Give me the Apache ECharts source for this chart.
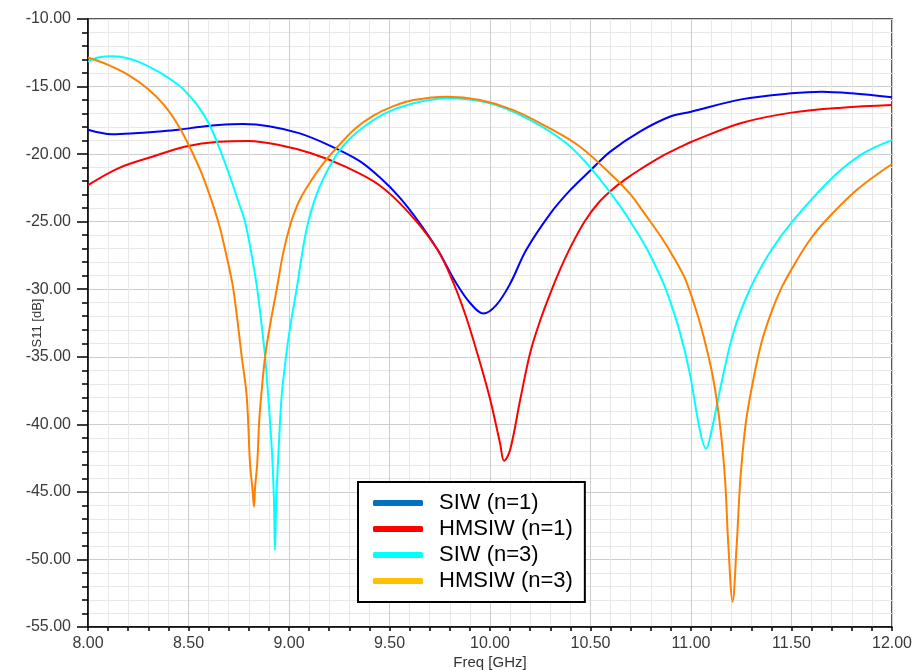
<!DOCTYPE html>
<html>
<head>
<meta charset="utf-8">
<script src="https://cdn.jsdelivr.net/npm/echarts@6/dist/echarts.min.js"></script>
<style>
html,body{margin:0;padding:0;background:#fff;}
#chart{width:914px;height:670px;}
</style>
</head>
<body>
<div id="chart"></div>
<script>
// ---- data ----
var seriesNames = ['SIW (n=1)', 'HMSIW (n=1)', 'SIW (n=3)', 'HMSIW (n=3)'];
var xTickLabels = ['8.00','8.50','9.00','9.50','10.00','10.50','11.00','11.50','12.00'];

var freqSIW1 = [8.00, 8.12, 8.23, 8.35, 8.45, 8.55, 8.65, 8.77, 8.90, 9.05, 9.20, 9.35, 9.45, 9.55, 9.65, 9.74, 9.83, 9.90, 9.967, 10.03, 10.10, 10.18, 10.30, 10.40, 10.50, 10.60, 10.75, 10.90, 11.00, 11.25, 11.50, 11.65, 11.80, 12.00];
var s11SIW1  = [-18.2, -18.53, -18.46, -18.33, -18.2, -18.0, -17.85, -17.78, -17.93, -18.45, -19.35, -20.5, -21.7, -23.2, -25.1, -27.1, -29.5, -31.0, -31.8, -31.2, -29.6, -27.1, -24.4, -22.65, -21.2, -19.8, -18.3, -17.2, -16.86, -15.95, -15.5, -15.38, -15.5, -15.8];

var freqHMSIW1 = [8.00, 8.15, 8.32, 8.48, 8.65, 8.80, 8.95, 9.11, 9.28, 9.45, 9.60, 9.74, 9.82, 9.88, 9.93, 10.00, 10.05, 10.07, 10.10, 10.15, 10.20, 10.25, 10.30, 10.35, 10.40, 10.47, 10.54, 10.61, 10.68, 10.75, 10.85, 10.95, 11.00, 11.25, 11.50, 11.75, 12.00];
var s11HMSIW1  = [-22.3, -21.05, -20.19, -19.45, -19.08, -19.03, -19.33, -19.94, -20.93, -22.3, -24.4, -27.1, -29.6, -32.0, -34.4, -38.1, -41.4, -42.7, -41.9, -38.2, -34.7, -32.3, -30.3, -28.5, -26.9, -25.0, -23.6, -22.6, -21.8, -21.1, -20.2, -19.45, -19.1, -17.7, -16.93, -16.56, -16.37];

var freqSIW3 = [8.00, 8.05, 8.12, 8.18, 8.25, 8.35, 8.45, 8.50, 8.55, 8.60, 8.65, 8.70, 8.75, 8.781, 8.81, 8.842, 8.865, 8.881, 8.897, 8.915, 8.925, 8.93, 8.937, 8.948, 8.963, 8.985, 9.01, 9.038, 9.065, 9.096, 9.15, 9.23, 9.30, 9.38, 9.478, 9.62, 9.785, 10.00, 10.20, 10.38, 10.51, 10.65, 10.72, 10.78, 10.84, 10.88, 10.945, 10.995, 11.045, 11.075, 11.103, 11.144, 11.21, 11.293, 11.40, 11.509, 11.708, 11.857, 12.00];
var s11SIW3  = [-13.15, -12.85, -12.75, -12.85, -13.16, -13.9, -14.88, -15.6, -16.5, -17.7, -19.4, -21.4, -23.6, -25.0, -27.1, -30.0, -32.8, -35.0, -38.0, -42.0, -45.5, -49.3, -45.5, -42.0, -38.0, -35.0, -32.4, -30.0, -27.4, -25.0, -22.5, -20.2, -18.9, -17.9, -16.98, -16.24, -15.87, -16.24, -17.48, -19.2, -21.18, -23.9, -25.5, -27.0, -28.8, -30.2, -33.2, -36.3, -40.5, -41.8, -40.4, -37.46, -33.26, -30.0, -27.1, -24.9, -21.67, -19.94, -18.96];

var freqHMSIW3 = [8.00, 8.10, 8.20, 8.30, 8.38, 8.45, 8.51, 8.57, 8.648, 8.69, 8.723, 8.765, 8.79, 8.806, 8.819, 8.826, 8.831, 8.842, 8.852, 8.864, 8.881, 8.91, 8.939, 8.97, 9.005, 9.03, 9.06, 9.113, 9.17, 9.245, 9.33, 9.42, 9.52, 9.62, 9.785, 9.95, 10.116, 10.282, 10.448, 10.614, 10.70, 10.78, 10.85, 10.92, 10.97, 11.02, 11.05, 11.078, 11.105, 11.128, 11.15, 11.17, 11.186, 11.207, 11.227, 11.244, 11.26, 11.277, 11.31, 11.35, 11.40, 11.45, 11.509, 11.58, 11.658, 11.824, 12.00];
var s11HMSIW3  = [-12.85, -13.4, -14.14, -15.2, -16.4, -17.9, -19.6, -21.6, -25.0, -27.6, -30.0, -35.0, -38.0, -42.9, -44.9, -46.1, -44.7, -42.9, -39.7, -37.5, -35.0, -32.3, -30.0, -27.4, -25.3, -24.2, -23.2, -21.9, -20.7, -19.4, -18.1, -17.15, -16.45, -16.0, -15.75, -16.0, -16.74, -17.97, -19.45, -21.67, -23.0, -24.63, -26.1, -27.8, -29.2, -31.3, -32.8, -34.4, -36.2, -38.2, -40.8, -44.2, -49.0, -53.13, -49.0, -44.4, -41.6, -39.44, -36.7, -34.0, -31.7, -29.9, -28.3, -26.6, -25.12, -22.66, -20.73];

// ---- build ----
function pairs(xs, ys){ return xs.map(function(x,i){ return [x, ys[i]]; }); }
var lineColors = ['#0000FF', '#FF0000', '#00FFFF', '#FF8000'];
var legendColors = ['#0070C0', '#FF0000', '#00FFFF', '#FFC000'];
var dataSets = [pairs(freqSIW1, s11SIW1), pairs(freqHMSIW1, s11HMSIW1), pairs(freqSIW3, s11SIW3), pairs(freqHMSIW3, s11HMSIW3)];

var chart = echarts.init(document.getElementById('chart'), null, {renderer:'canvas'});
var font = '"Liberation Sans", Arial, sans-serif';

var option = {
  animation: false,
  backgroundColor: '#fff',
  grid: { left: 88, right: 22, top: 19, bottom: 43, containLabel: false, outerBoundsMode: 'none',
          show: true, borderColor: '#222', borderWidth: 1.5, backgroundColor: 'transparent' },
  xAxis: {
    type: 'value', min: 8, max: 12, interval: 0.5,
    name: 'Freq [GHz]', nameLocation: 'middle', nameGap: 28, nameMoveOverlap: false,
    nameTextStyle: { fontFamily: font, fontSize: 15, color: '#333' },
    axisLine: { show: true, onZero: false, lineStyle: { color: '#000', width: 1.5 } },
    axisTick: { show: true, inside: false, length: 4, lineStyle: { color: '#000', width: 1.5 } },
    minorTick: { show: true, splitNumber: 5, length: 4, lineStyle: { color: '#000', width: 1.5 } },
    axisLabel: { fontFamily: font, fontSize: 16, color: '#3a3a3a', margin: 9,
      formatter: function(v){ var i = Math.round((v-8)/0.5); return xTickLabels[i] !== undefined ? xTickLabels[i] : v.toFixed(2); } },
    splitLine: { show: true, lineStyle: { color: '#cdcdcd', width: 1 } },
    minorSplitLine: { show: true, lineStyle: { color: '#e8e8e8', width: 1 } }
  },
  yAxis: {
    type: 'value', min: -55, max: -10, interval: 5,
    name: 'S11 [dB]', nameLocation: 'middle', nameGap: 44, nameRotate: 90, nameMoveOverlap: false,
    nameTextStyle: { fontFamily: font, fontSize: 13, color: '#333' },
    axisLine: { show: true, onZero: false, lineStyle: { color: '#000', width: 1.5 } },
    axisTick: { show: true, inside: false, length: 11, lineStyle: { color: '#000', width: 1.5 } },
    minorTick: { show: true, splitNumber: 5, length: 6, lineStyle: { color: '#000', width: 1.5 } },
    axisLabel: { fontFamily: font, fontSize: 16, color: '#3a3a3a', margin: 17,
      formatter: function(v){ return v.toFixed(2); } },
    splitLine: { show: true, lineStyle: { color: '#cdcdcd', width: 1 } },
    minorSplitLine: { show: true, lineStyle: { color: '#e8e8e8', width: 1 } }
  },
  legend: {
    orient: 'vertical', left: 358, top: 482,
    backgroundColor: '#fff', borderColor: '#000', borderWidth: 2, borderRadius: 0,
    padding: [10, 12, 10, 15],
    itemWidth: 50, itemHeight: 6, itemGap: 4,
    icon: 'roundRect',
    textStyle: { fontFamily: font, fontSize: 22, lineHeight: 21, color: '#000', padding: [0, 0, 0, 11] },
    data: seriesNames.map(function(n, i){ return { name: n, itemStyle: { color: legendColors[i] } }; })
  },
  series: seriesNames.map(function(n, i){
    return {
      name: n, type: 'line', data: dataSets[i], showSymbol: false, symbol: 'none',
      smooth: 0.35, clip: true,
      lineStyle: { color: lineColors[i], width: 2 },
      itemStyle: { color: lineColors[i] },
      z: 3 + i
    };
  })
};
chart.setOption(option);
</script>
</body>
</html>
